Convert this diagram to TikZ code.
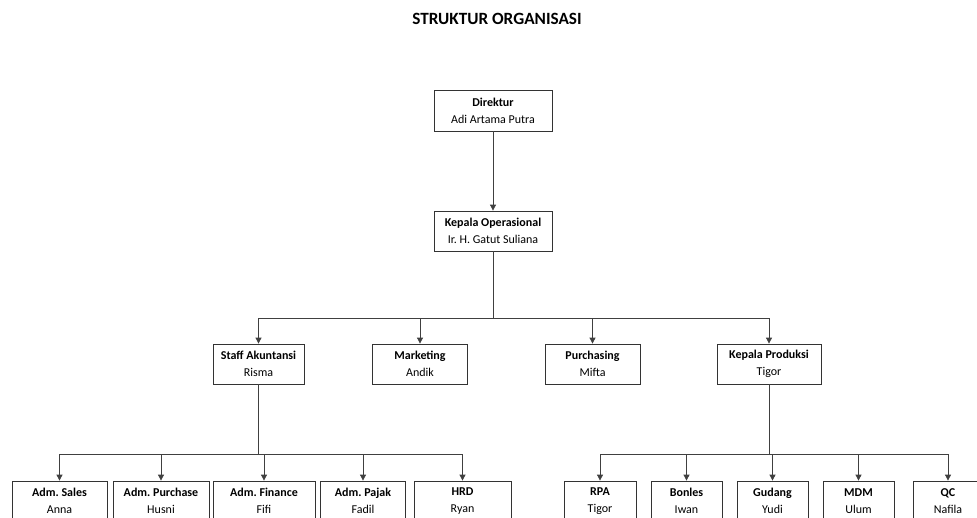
\documentclass[tikz,border=0pt]{standalone}
\usepackage{fontspec}
\setmainfont{Carlito}
\frenchspacing
\usetikzlibrary{arrows.meta}
\tikzset{
  box/.style={draw=black!80, line width=0.8pt, rectangle, minimum height=40pt, inner sep=0pt, align=center,
    font=\fontsize{12}{17}\selectfont},
  conn/.style={draw=black!75, line width=0.8pt},
  arr/.style={conn, -{Triangle[length=6pt,width=6pt]}},
}
\begin{document}
\begin{tikzpicture}[x=1pt,y=-1pt]
\useasboundingbox (0,0) rectangle (977,517);
\node[font=\fontsize{17.2}{20}\selectfont\bfseries] (title) at (497,19) {STRUKTUR ORGANISASI};

\node[box, minimum width=118pt, minimum height=41pt] (dir) at (493,110.5) {\textbf{Direktur}\\Adi Artama Putra};
\node[box, minimum width=118pt] (kop) at (493,231) {\textbf{Kepala Operasional}\\Ir. H. Gatut Suliana};

\node[box, minimum width=91pt] (staff) at (258.5,364) {\textbf{Staff Akuntansi}\\Risma};
\node[box, minimum width=95pt] (mkt) at (420,364) {\textbf{Marketing}\\Andik};
\node[box, minimum width=95pt] (pur) at (592.5,364) {\textbf{Purchasing}\\Mifta};
\node[box, minimum width=104pt] (kp) at (769,364) {\textbf{Kepala Produksi}\\Tigor};

\node[box, minimum width=95pt] (sales) at (59.5,501) {\textbf{Adm. Sales}\\Anna};
\node[box, minimum width=96pt] (apur) at (161,501) {\textbf{Adm. Purchase}\\Husni};
\node[box, minimum width=102pt] (fin) at (264,501) {\textbf{Adm. Finance}\\Fifi};
\node[box, minimum width=85pt] (pajak) at (363,501) {\textbf{Adm. Pajak}\\Fadil};
\node[box, minimum width=97pt] (hrd) at (462.5,501) {\textbf{HRD}\\Ryan};

\node[box, minimum width=72pt] (rpa) at (600,501) {\textbf{RPA}\\Tigor};
\node[box, minimum width=71pt] (bon) at (686.5,501) {\textbf{Bonles}\\Iwan};
\node[box, minimum width=71pt] (gud) at (772.5,501) {\textbf{Gudang}\\Yudi};
\node[box, minimum width=71pt] (mdm) at (858.5,501) {\textbf{MDM}\\Ulum};
\node[box, minimum width=70pt] (qc) at (948,501) {\textbf{QC}\\Nafila};

\draw[arr] (dir) -- (kop);

\coordinate (b1) at (493,318);
\draw[conn] (kop.south) -- (b1);
\foreach \n in {staff,mkt,pur,kp} \draw[arr] (b1) -| (\n.north);

\coordinate (b2) at (258.5,454);
\draw[conn] (staff.south) -- (b2);
\foreach \n in {sales,apur,fin,pajak,hrd} \draw[arr] (b2) -| (\n.north);

\coordinate (b3) at (769,454);
\draw[conn] (kp.south) -- (b3);
\foreach \n in {rpa,bon,gud,mdm,qc} \draw[arr] (b3) -| (\n.north);
\end{tikzpicture}
\end{document}
